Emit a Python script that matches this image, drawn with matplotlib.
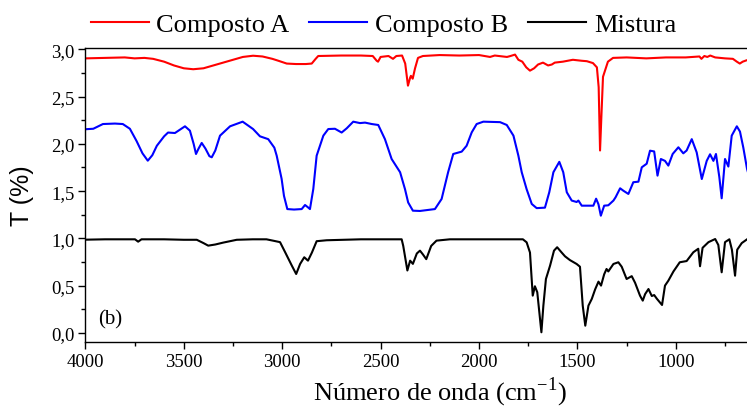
# Espectros de FTIR: composto A, composto B e mistura
import matplotlib.pyplot as plt
from matplotlib.ticker import MultipleLocator, FuncFormatter

plt.rcParams['font.family'] = ['Liberation Serif', 'DejaVu Serif']
plt.rcParams['mathtext.fontset'] = 'custom'
plt.rcParams['mathtext.rm'] = 'Liberation Serif'

# Composto A (numero de onda, T)
onda_a = [4000, 3900, 3800, 3750, 3700, 3656, 3600, 3550, 3500, 3452, 3400, 3350, 3300, 3250,
          3200, 3148, 3100, 3050, 3020, 2977, 2930, 2880, 2850, 2830, 2817, 2700, 2600, 2540,
          2520, 2513, 2500, 2460, 2437, 2420, 2391, 2375, 2361, 2350, 2346, 2337, 2325, 2310,
          2285, 2200, 2100, 2000, 1944, 1920, 1858, 1840, 1817, 1800, 1780, 1760, 1741, 1720,
          1700, 1675, 1649, 1630, 1615, 1574, 1523, 1480, 1452, 1421, 1401, 1392, 1385, 1378,
          1370, 1345, 1319, 1250, 1150, 1050, 950, 880, 870, 855, 840, 825, 800, 750, 710,
          690, 675, 660, 640, 600]
t_a = [2.905, 2.91, 2.915, 2.905, 2.91, 2.90, 2.87, 2.83, 2.80, 2.79, 2.80, 2.83, 2.86, 2.89,
       2.92, 2.933, 2.925, 2.90, 2.88, 2.85, 2.845, 2.845, 2.85, 2.90, 2.93, 2.935, 2.935, 2.93,
       2.88, 2.87, 2.92, 2.93, 2.90, 2.93, 2.935, 2.85, 2.616, 2.70, 2.72, 2.69, 2.80, 2.91,
       2.93, 2.94, 2.935, 2.94, 2.92, 2.935, 2.92, 2.93, 2.945, 2.89, 2.87, 2.81, 2.775, 2.80,
       2.84, 2.86, 2.83, 2.84, 2.86, 2.87, 2.89, 2.88, 2.875, 2.855, 2.81, 2.60, 1.93, 2.30,
       2.71, 2.87, 2.91, 2.915, 2.905, 2.915, 2.915, 2.925, 2.90, 2.93, 2.92, 2.935, 2.915, 2.905, 2.90,
       2.87, 2.85, 2.87, 2.885, 2.89]

# Composto B
onda_b = [4000, 3960, 3930, 3911, 3850, 3810, 3774, 3740, 3710, 3683, 3660, 3637, 3600, 3580,
          3545, 3494, 3469, 3450, 3438, 3425, 3409, 3390, 3370, 3358, 3340, 3316, 3265, 3201,
          3148, 3113, 3071, 3040, 3028, 3003, 2991, 2974, 2940, 2901, 2884, 2870, 2859, 2842,
          2825, 2791, 2766, 2732, 2698, 2672, 2639, 2605, 2579, 2545, 2512, 2478, 2444, 2401,
          2376, 2360, 2336, 2300, 2224, 2190, 2157, 2131, 2088, 2063, 2037, 2012, 1978, 1893,
          1859, 1825, 1800, 1783, 1758, 1732, 1707, 1665, 1643, 1622, 1592, 1572, 1554, 1529,
          1504, 1495, 1478, 1419, 1405, 1393, 1381, 1364, 1343, 1317, 1306, 1283, 1267, 1241,
          1216, 1190, 1173, 1148, 1131, 1110, 1093, 1076, 1055, 1038, 1016, 987, 962, 945,
          919, 894, 868, 843, 826, 809, 796, 779, 767, 750, 733, 716, 690, 674, 657, 638, 620]
t_b = [2.155, 2.16, 2.19, 2.21, 2.215, 2.21, 2.16, 2.03, 1.90, 1.822, 1.88, 1.98, 2.08, 2.12,
       2.115, 2.186, 2.14, 2.0, 1.893, 1.95, 2.01, 1.95, 1.87, 1.858, 1.93, 2.087, 2.186, 2.235,
       2.157, 2.08, 2.05, 1.96, 1.875, 1.63, 1.45, 1.31, 1.305, 1.31, 1.353, 1.33, 1.31, 1.523,
       1.875, 2.087, 2.157, 2.16, 2.12, 2.165, 2.235, 2.22, 2.225, 2.21, 2.20, 2.05, 1.84, 1.70,
       1.52, 1.38, 1.293, 1.29, 1.31, 1.417, 1.70, 1.893, 1.918, 1.98, 2.122, 2.21, 2.235, 2.23,
       2.20, 2.087, 1.875, 1.70, 1.52, 1.364, 1.32, 1.325, 1.488, 1.70, 1.81, 1.70, 1.488, 1.40,
       1.385, 1.40, 1.346, 1.346, 1.42, 1.36, 1.24, 1.346, 1.35, 1.40, 1.435, 1.53, 1.505, 1.47,
       1.594, 1.60, 1.752, 1.79, 1.928, 1.92, 1.664, 1.84, 1.82, 1.77, 1.893, 1.964, 1.90, 1.93,
       2.05, 1.91, 1.628, 1.82, 1.89, 1.82, 1.893, 1.65, 1.424, 1.84, 1.76, 2.087, 2.186, 2.13, 1.96, 1.734, 1.60]

# Mistura
onda_m = [4000, 3900, 3800, 3748, 3732, 3715, 3600, 3500, 3434, 3400, 3376, 3340, 3300, 3231,
          3150, 3080, 3045, 3011, 2985, 2951, 2929, 2909, 2888, 2869, 2849, 2825, 2774, 2600,
          2393, 2385, 2364, 2350, 2336, 2316, 2300, 2285, 2268, 2243, 2216, 2148, 1900, 1777,
          1758, 1741, 1727, 1716, 1704, 1683, 1673, 1660, 1639, 1619, 1603, 1580, 1563, 1538,
          1504, 1487, 1473, 1460, 1444, 1427, 1410, 1393, 1380, 1364, 1352, 1343, 1317, 1292,
          1275, 1250, 1224, 1207, 1182, 1168, 1156, 1139, 1122, 1110, 1096, 1070, 1055, 1038,
          1012, 980, 945, 911, 886, 877, 864, 834, 800, 784, 767, 750, 728, 715, 699, 688, 665, 638]
t_m = [0.986, 0.99, 0.99, 0.99, 0.965, 0.99, 0.99, 0.985, 0.985, 0.95, 0.923, 0.935, 0.955, 0.985,
       0.99, 0.99, 0.975, 0.96, 0.853, 0.711, 0.623, 0.729, 0.80, 0.764, 0.85, 0.97, 0.98, 0.99,
       0.99, 0.92, 0.66, 0.764, 0.73, 0.84, 0.87, 0.83, 0.78, 0.92, 0.976, 0.99, 0.99, 0.99,
       0.958, 0.85, 0.394, 0.493, 0.43, 0.006, 0.288, 0.57, 0.711, 0.87, 0.906, 0.85, 0.81, 0.77,
       0.729, 0.70, 0.288, 0.076, 0.288, 0.359, 0.46, 0.542, 0.50, 0.62, 0.676, 0.65, 0.729, 0.747,
       0.70, 0.57, 0.60, 0.53, 0.394, 0.341, 0.41, 0.464, 0.39, 0.40, 0.36, 0.295, 0.50, 0.552,
       0.65, 0.747, 0.76, 0.853, 0.89, 0.705, 0.90, 0.96, 0.993, 0.93, 0.641, 0.96, 0.99, 0.88, 0.605, 0.88, 0.95, 0.99]

rotulos_x = [4000, 3500, 3000, 2500, 2000, 1500, 1000]

fig = plt.figure(figsize=(7.47, 4.10), dpi=100)
ax = fig.add_axes([85.4 / 747, 66.7 / 410, 708.5 / 747, 294.8 / 410])

l1, = ax.plot(onda_a, t_a, color='#ff0000', lw=1.5)
l2, = ax.plot(onda_b, t_b, color='#0000ff', lw=1.5)
l3, = ax.plot(onda_m, t_m, color='black', lw=1.5)

ax.set_xlim(4000, 400)
ax.set_ylim(-0.1, 3.02)
ax.set_xticks(rotulos_x)
ax.xaxis.set_minor_locator(MultipleLocator(250))
ax.yaxis.set_major_locator(MultipleLocator(0.5))
ax.yaxis.set_minor_locator(MultipleLocator(0.25))
ax.yaxis.set_major_formatter(FuncFormatter(lambda v, p: f'{v:.1f}'.replace('.', ',')))
ax.tick_params(which='major', length=5, width=1, labelsize=13.5, pad=3)
ax.tick_params(which='minor', length=3, width=1)
for s in ax.spines.values():
    s.set_linewidth(1.0)

ax.text(0.018, 0.079, '(b)', transform=ax.transAxes, fontsize=15, ha='left', va='center')

fig.text(22.5 / 747, 0.5 - (196 - 205) / 410, 'T (%)', family='Liberation Sans', fontsize=18,
         rotation=90, ha='center', va='center')
fig.text(440 / 747, 1 - 392 / 410, r'Número de onda (cm$^{\mathregular{-1}}$)', fontsize=19,
         ha='center', va='center')

fig.legend([l1, l2, l3], ['Composto A', 'Composto B', 'Mistura'], loc='center',
           bbox_to_anchor=(383.5 / 747, 1 - 25 / 410), ncol=3, frameon=False, fontsize=19,
           handlelength=2.2, handletextpad=0.3, columnspacing=0.75)

plt.savefig('out.png', dpi=100)
